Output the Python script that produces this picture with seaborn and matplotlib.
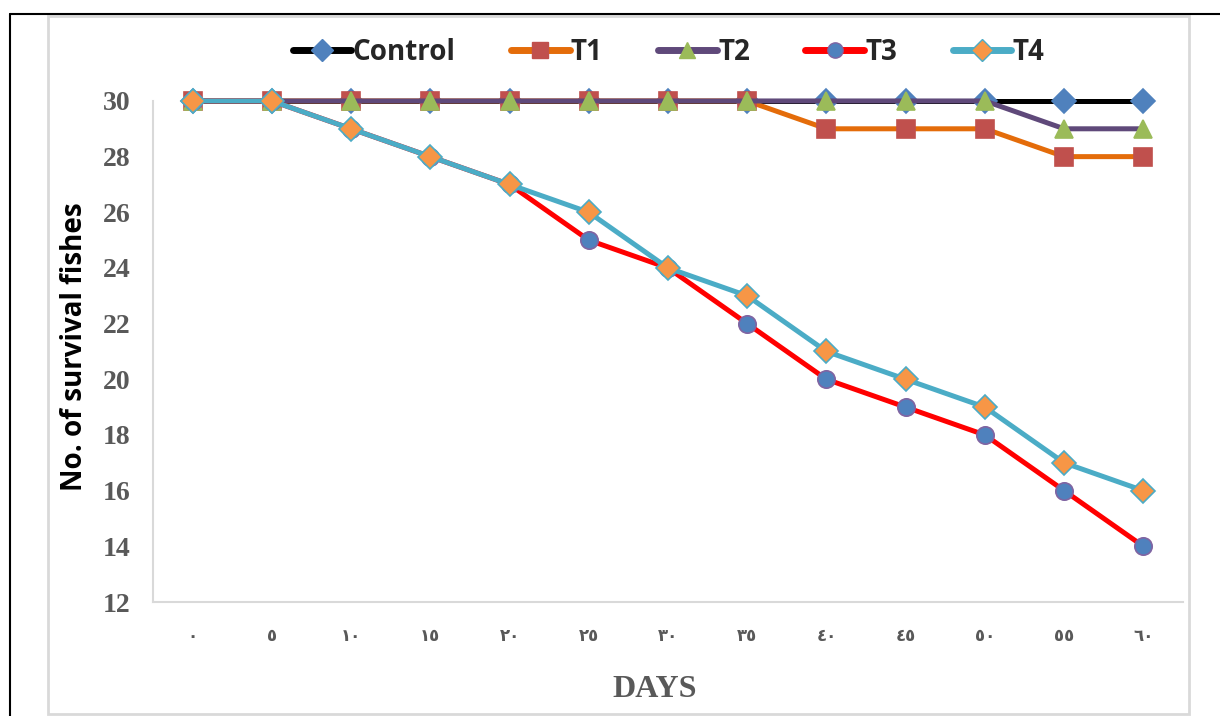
import numpy as np
import pandas as pd
import matplotlib
matplotlib.use("Agg")
import matplotlib.pyplot as plt
import seaborn as sns
from matplotlib.lines import Line2D
from matplotlib.patches import Rectangle

# survival counts, one value every 5 days
days = [0, 5, 10, 15, 20, 25, 30, 35, 40, 45, 50, 55, 60]
day_labels = ["٠", "٥", "١٠", "١٥", "٢٠", "٢٥", "٣٠", "٣٥", "٤٠", "٤٥", "٥٠", "٥٥", "٦٠"]
control = [30, 30, 30, 30, 30, 30, 30, 30, 30, 30, 30, 30, 30]
t1 = [30, 30, 30, 30, 30, 30, 30, 30, 29, 29, 29, 28, 28]
t2 = [30, 30, 30, 30, 30, 30, 30, 30, 30, 30, 30, 29, 29]
t3 = [30, 30, 29, 28, 27, 25, 24, 22, 20, 19, 18, 16, 14]
t4 = [30, 30, 29, 28, 27, 26, 24, 23, 21, 20, 19, 17, 16]
series_names = ["Control", "T1", "T2", "T3", "T4"]

df = pd.DataFrame({"day": days, "Control": control, "T1": t1, "T2": t2, "T3": t3, "T4": t4})

# line colour, marker, marker face, marker edge, marker size
styles = {
    "Control": ("#000000", "D", "#4F81BD", "#4F81BD", 12.5),
    "T1": ("#E46C0A", "s", "#C0504D", "#C0504D", 12.5),
    "T2": ("#5F497A", "^", "#9BBB59", "#9BBB59", 13.5),
    "T3": ("#FF0000", "o", "#4F81BD", "#8064A2", 12.5),
    "T4": ("#4BACC6", "D", "#F79646", "#4BACC6", 12.5),
}

sns.set_theme(style="white")
fig = plt.figure(figsize=(12.2, 7.16), dpi=100)
ax = fig.add_axes([0.1254, 0.1592, 0.8443, 0.6998])

for name in series_names:
    lc, mk, mfc, mec, ms = styles[name]
    sns.lineplot(data=df, x="day", y=name, ax=ax, color=lc, linewidth=3.6,
                 marker=mk, markersize=ms, markerfacecolor=mfc, markeredgecolor=mec,
                 markeredgewidth=1.2, clip_on=False, zorder=3)

ax.set_xlim(-2.5, 62.5)
ax.set_ylim(12, 30)
ax.set_yticks(range(12, 31, 2))
ax.set_yticklabels([str(v) for v in range(12, 31, 2)], fontfamily="Liberation Serif",
                   fontweight="bold", fontsize=20, color="#595959")
ax.set_xticks(days)
ax.set_xticklabels(day_labels, fontfamily=["DejaVu Sans"], fontweight="bold",
                   fontsize=12, color="#595959")
ax.tick_params(axis="y", length=0, pad=16)
ax.tick_params(axis="x", length=0, pad=18)

for side in ["top", "right"]:
    ax.spines[side].set_visible(False)
for side in ["left", "bottom"]:
    ax.spines[side].set_color("#D9D9D9")
    ax.spines[side].set_linewidth(1.5)

ax.set_xlabel("DAYS", fontfamily="Liberation Serif", fontweight="bold", fontsize=23,
              color="#595959")
ax.xaxis.set_label_coords(0.487, -0.146)
ax.set_ylabel("No. of survival fishes", fontfamily="Open Sans", fontweight="bold",
              fontsize=20, color="black")
ax.yaxis.set_label_coords(-0.062, 0.51)

handles = []
for name in series_names:
    lc, mk, mfc, mec, ms = styles[name]
    handles.append(Line2D([], [], color=lc, linewidth=5, marker=mk,
                          markersize=ms * 0.88, markerfacecolor=mfc, markeredgecolor=mec))
fig.legend(handles, series_names, loc="center", bbox_to_anchor=(0.548, 0.927), ncol=5,
           frameon=False, prop={"family": "Open Sans", "weight": "bold", "size": 20},
           handlelength=2.1, handletextpad=0.05, columnspacing=2.0)

# page frame and chart border
fig.add_artist(Line2D([10 / 1220, 1.0], [1 - 14 / 716, 1 - 14 / 716], color="black", linewidth=1.5))
fig.add_artist(Line2D([10 / 1220, 10 / 1220], [0, 1 - 14 / 716], color="black", linewidth=1.5))
fig.add_artist(Rectangle((48 / 1220, 2 / 716), (1189 - 48) / 1220, (716 - 16 - 2) / 716,
                         fill=False, edgecolor="#D9D9D9", linewidth=2))

fig.savefig("out.png", dpi=100)
